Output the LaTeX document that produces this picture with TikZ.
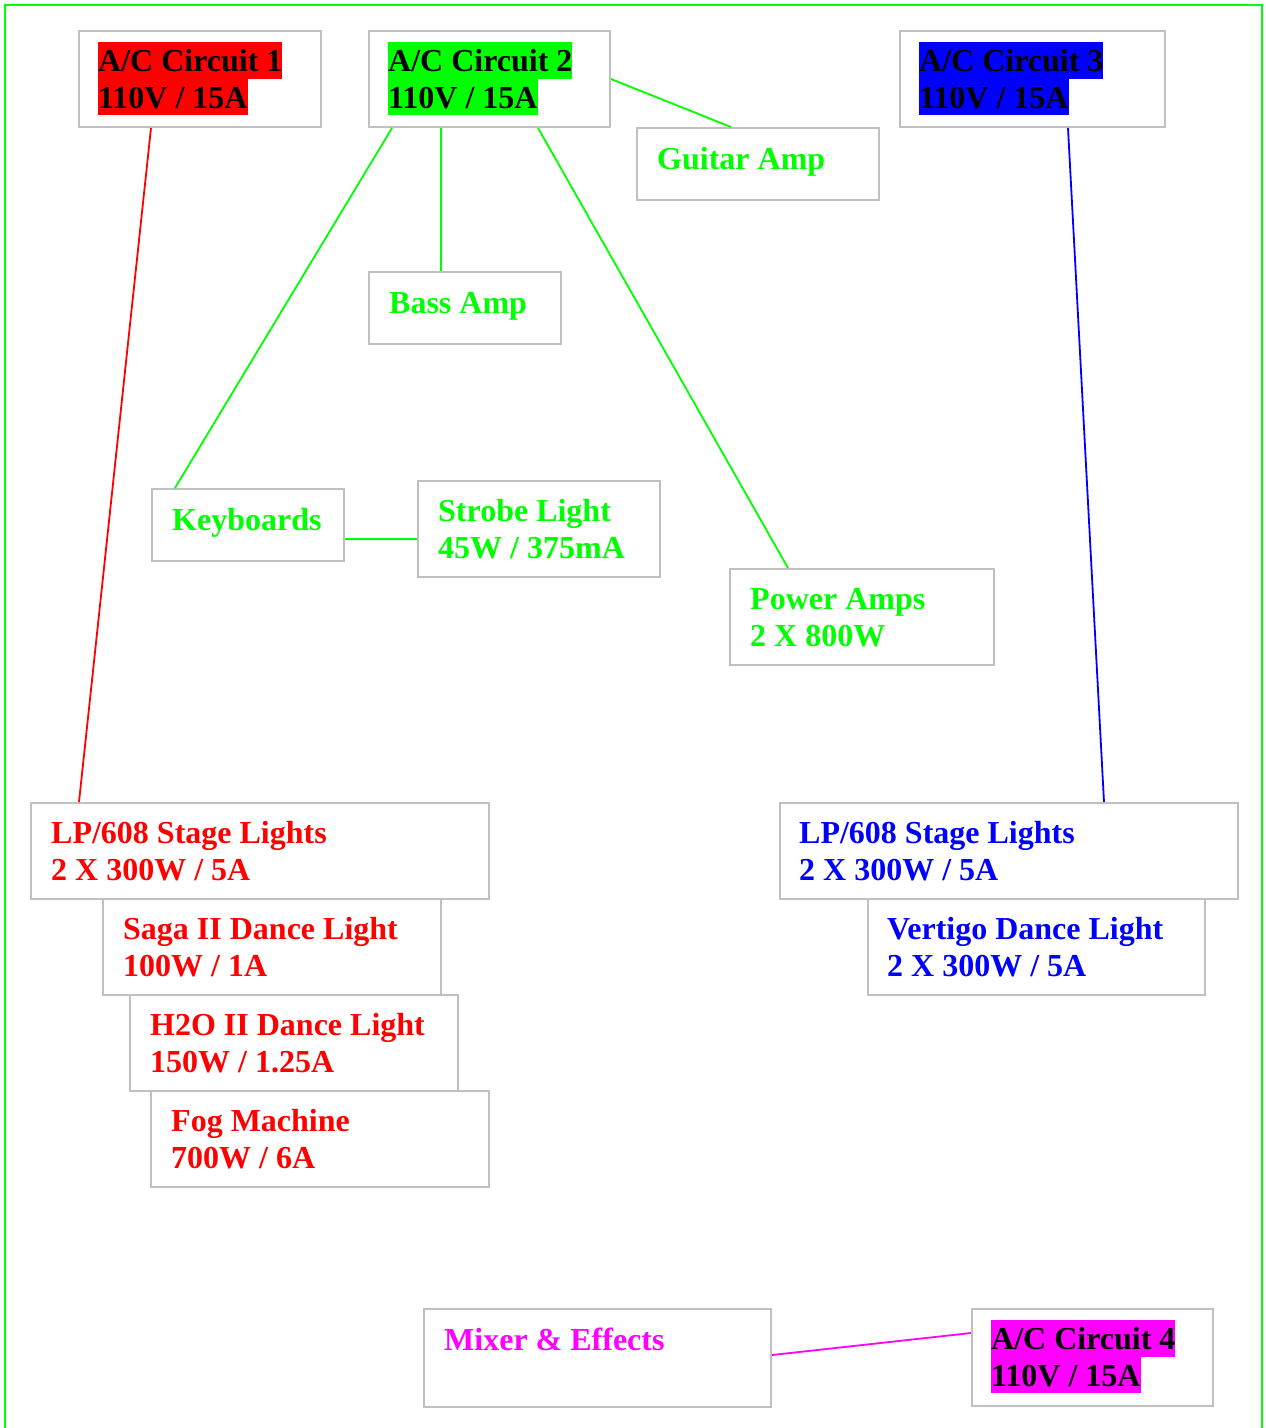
\documentclass[tikz,border=0pt]{standalone}
\usepackage{fontspec}
\setmainfont{Liberation Serif}
\usetikzlibrary{calc}
\definecolor{cgreen}{HTML}{00FF00}
\definecolor{cred}{HTML}{FF0000}
\definecolor{cblue}{HTML}{0000FF}
\definecolor{cmag}{HTML}{FF00FF}
\definecolor{boxgray}{HTML}{C0C0C0}
\begin{document}
\begin{tikzpicture}[x=1pt,y=-1pt,
  box/.style={draw=boxgray, line width=2pt, anchor=north west, inner sep=0pt},
  lbl/.style={anchor=base west, inner sep=0pt, font=\fontsize{32}{37}\selectfont\bfseries},
  hl/.style={lbl, text=black, fill=#1, text height=29.7pt, text depth=7pt},
  wire/.style={line width=1.8pt}]
\useasboundingbox (0,0) rectangle (1266,1428);
\draw[cgreen, line width=2.2pt] (5,1440) -- (5,5) -- (1262,5) -- (1262,1440);

% boxes
\node[box, minimum width=242, minimum height=96] (ac1) at (78,30) {};
\node[box, minimum width=241, minimum height=96] (ac2) at (368,30) {};
\node[box, minimum width=265, minimum height=96] (ac3) at (899,30) {};
\node[box, minimum width=242, minimum height=72] (guitar) at (636,127) {};
\node[box, minimum width=192, minimum height=72] (bass) at (368,271) {};
\node[box, minimum width=192, minimum height=72] (kb) at (151,488) {};
\node[box, minimum width=242, minimum height=96] (strobe) at (417,480) {};
\node[box, minimum width=264, minimum height=96] (power) at (729,568) {};
\node[box, minimum width=458, minimum height=96] (lp1) at (30,802) {};
\node[box, minimum width=338, minimum height=96] (saga) at (102,898) {};
\node[box, minimum width=328, minimum height=96] (h2o) at (129,994) {};
\node[box, minimum width=338, minimum height=96] (fog) at (150,1090) {};
\node[box, minimum width=458, minimum height=96] (lp2) at (779,802) {};
\node[box, minimum width=337, minimum height=96] (vert) at (867,898) {};
\node[box, minimum width=347, minimum height=98] (mixer) at (423,1308) {};
\node[box, minimum width=241, minimum height=97] (ac4) at (971,1308) {};

% circuit labels
\node[hl=cred] (ac1a) at ($(ac1.north west)+(20,41.8)$) {A/C Circuit 1};
\node[hl=cred] (ac1b) at ($(ac1.north west)+(20,78.1)$) {110V / 15A};
\node[hl=cgreen] (ac2a) at ($(ac2.north west)+(20,41.8)$) {A/C Circuit 2};
\node[hl=cgreen] (ac2b) at ($(ac2.north west)+(20,78.1)$) {110V / 15A};
\node[hl=cblue] (ac3a) at ($(ac3.north west)+(20,41.8)$) {A/C Circuit 3};
\node[hl=cblue] (ac3b) at ($(ac3.north west)+(20,78.1)$) {110V / 15A};
\node[hl=cmag] (ac4a) at ($(ac4.north west)+(20,41.8)$) {A/C Circuit 4};
\node[hl=cmag] (ac4b) at ($(ac4.north west)+(20,78.1)$) {110V / 15A};

% device labels
\node[lbl, text=cgreen] (guitart) at ($(guitar.north west)+(21,42.5)$) {Guitar Amp};
\node[lbl, text=cgreen] (basst) at ($(bass.north west)+(21,42.5)$) {Bass Amp};
\node[lbl, text=cgreen] (kbt) at ($(kb.north west)+(21,42.8)$) {Keyboards};
\node[lbl, text=cgreen] (strobea) at ($(strobe.north west)+(21,41.8)$) {Strobe Light};
\node[lbl, text=cgreen] (strobeb) at ($(strobe.north west)+(21,78.3)$) {45W / 375mA};
\node[lbl, text=cgreen] (powera) at ($(power.north west)+(21,41.8)$) {Power Amps};
\node[lbl, text=cgreen] (powerb) at ($(power.north west)+(21,78.3)$) {2 X 800W};
\node[lbl, text=cred] (lp1a) at ($(lp1.north west)+(21,41.8)$) {LP/608 Stage Lights};
\node[lbl, text=cred] (lp1b) at ($(lp1.north west)+(21,78.3)$) {2 X 300W / 5A};
\node[lbl, text=cred] (sagaa) at ($(saga.north west)+(21,41.8)$) {Saga II Dance Light};
\node[lbl, text=cred] (sagab) at ($(saga.north west)+(21,78.3)$) {100W / 1A};
\node[lbl, text=cred] (h2oa) at ($(h2o.north west)+(21,41.8)$) {H2O II Dance Light};
\node[lbl, text=cred] (h2ob) at ($(h2o.north west)+(21,78.3)$) {150W / 1.25A};
\node[lbl, text=cred] (foga) at ($(fog.north west)+(21,41.8)$) {Fog Machine};
\node[lbl, text=cred] (fogb) at ($(fog.north west)+(21,78.3)$) {700W / 6A};
\node[lbl, text=cblue] (lp2a) at ($(lp2.north west)+(20,41.8)$) {LP/608 Stage Lights};
\node[lbl, text=cblue] (lp2b) at ($(lp2.north west)+(20,78.3)$) {2 X 300W / 5A};
\node[lbl, text=cblue] (verta) at ($(vert.north west)+(20,41.8)$) {Vertigo Dance Light};
\node[lbl, text=cblue] (vertb) at ($(vert.north west)+(20,78.3)$) {2 X 300W / 5A};
\node[lbl, text=cmag] (mixert) at ($(mixer.north west)+(21,42.3)$) {Mixer \& Effects};

% connectors
\draw[wire, cred] ($(ac1.south west)+(73,0)$) -- ($(lp1.north west)+(49,0)$);
\draw[wire, cgreen] ($(ac2.south west)+(24,0)$) -- ($(kb.north west)+(24,0)$);
\draw[wire, cgreen] ($(ac2.south west)+(73,0)$) -- ($(bass.north west)+(73,0)$);
\draw[wire, cgreen] ($(ac2.south west)+(170,0)$) -- ($(power.north west)+(59,0)$);
\draw[wire, cgreen] (ac2.east) -- ($(guitar.north west)+(95,0)$);
\coordinate (kbo) at ($(kb.south east)+(0,-23)$);
\draw[wire, cgreen] (kbo) -- (kbo -| strobe.west);
\draw[wire, cblue] ($(ac3.south west)+(169,0)$) -- ($(lp2.north west)+(325,0)$);
\draw[wire, cmag] ($(mixer.north east)+(0,47)$) -- ($(ac4.north west)+(0,25)$);
\end{tikzpicture}
\end{document}
